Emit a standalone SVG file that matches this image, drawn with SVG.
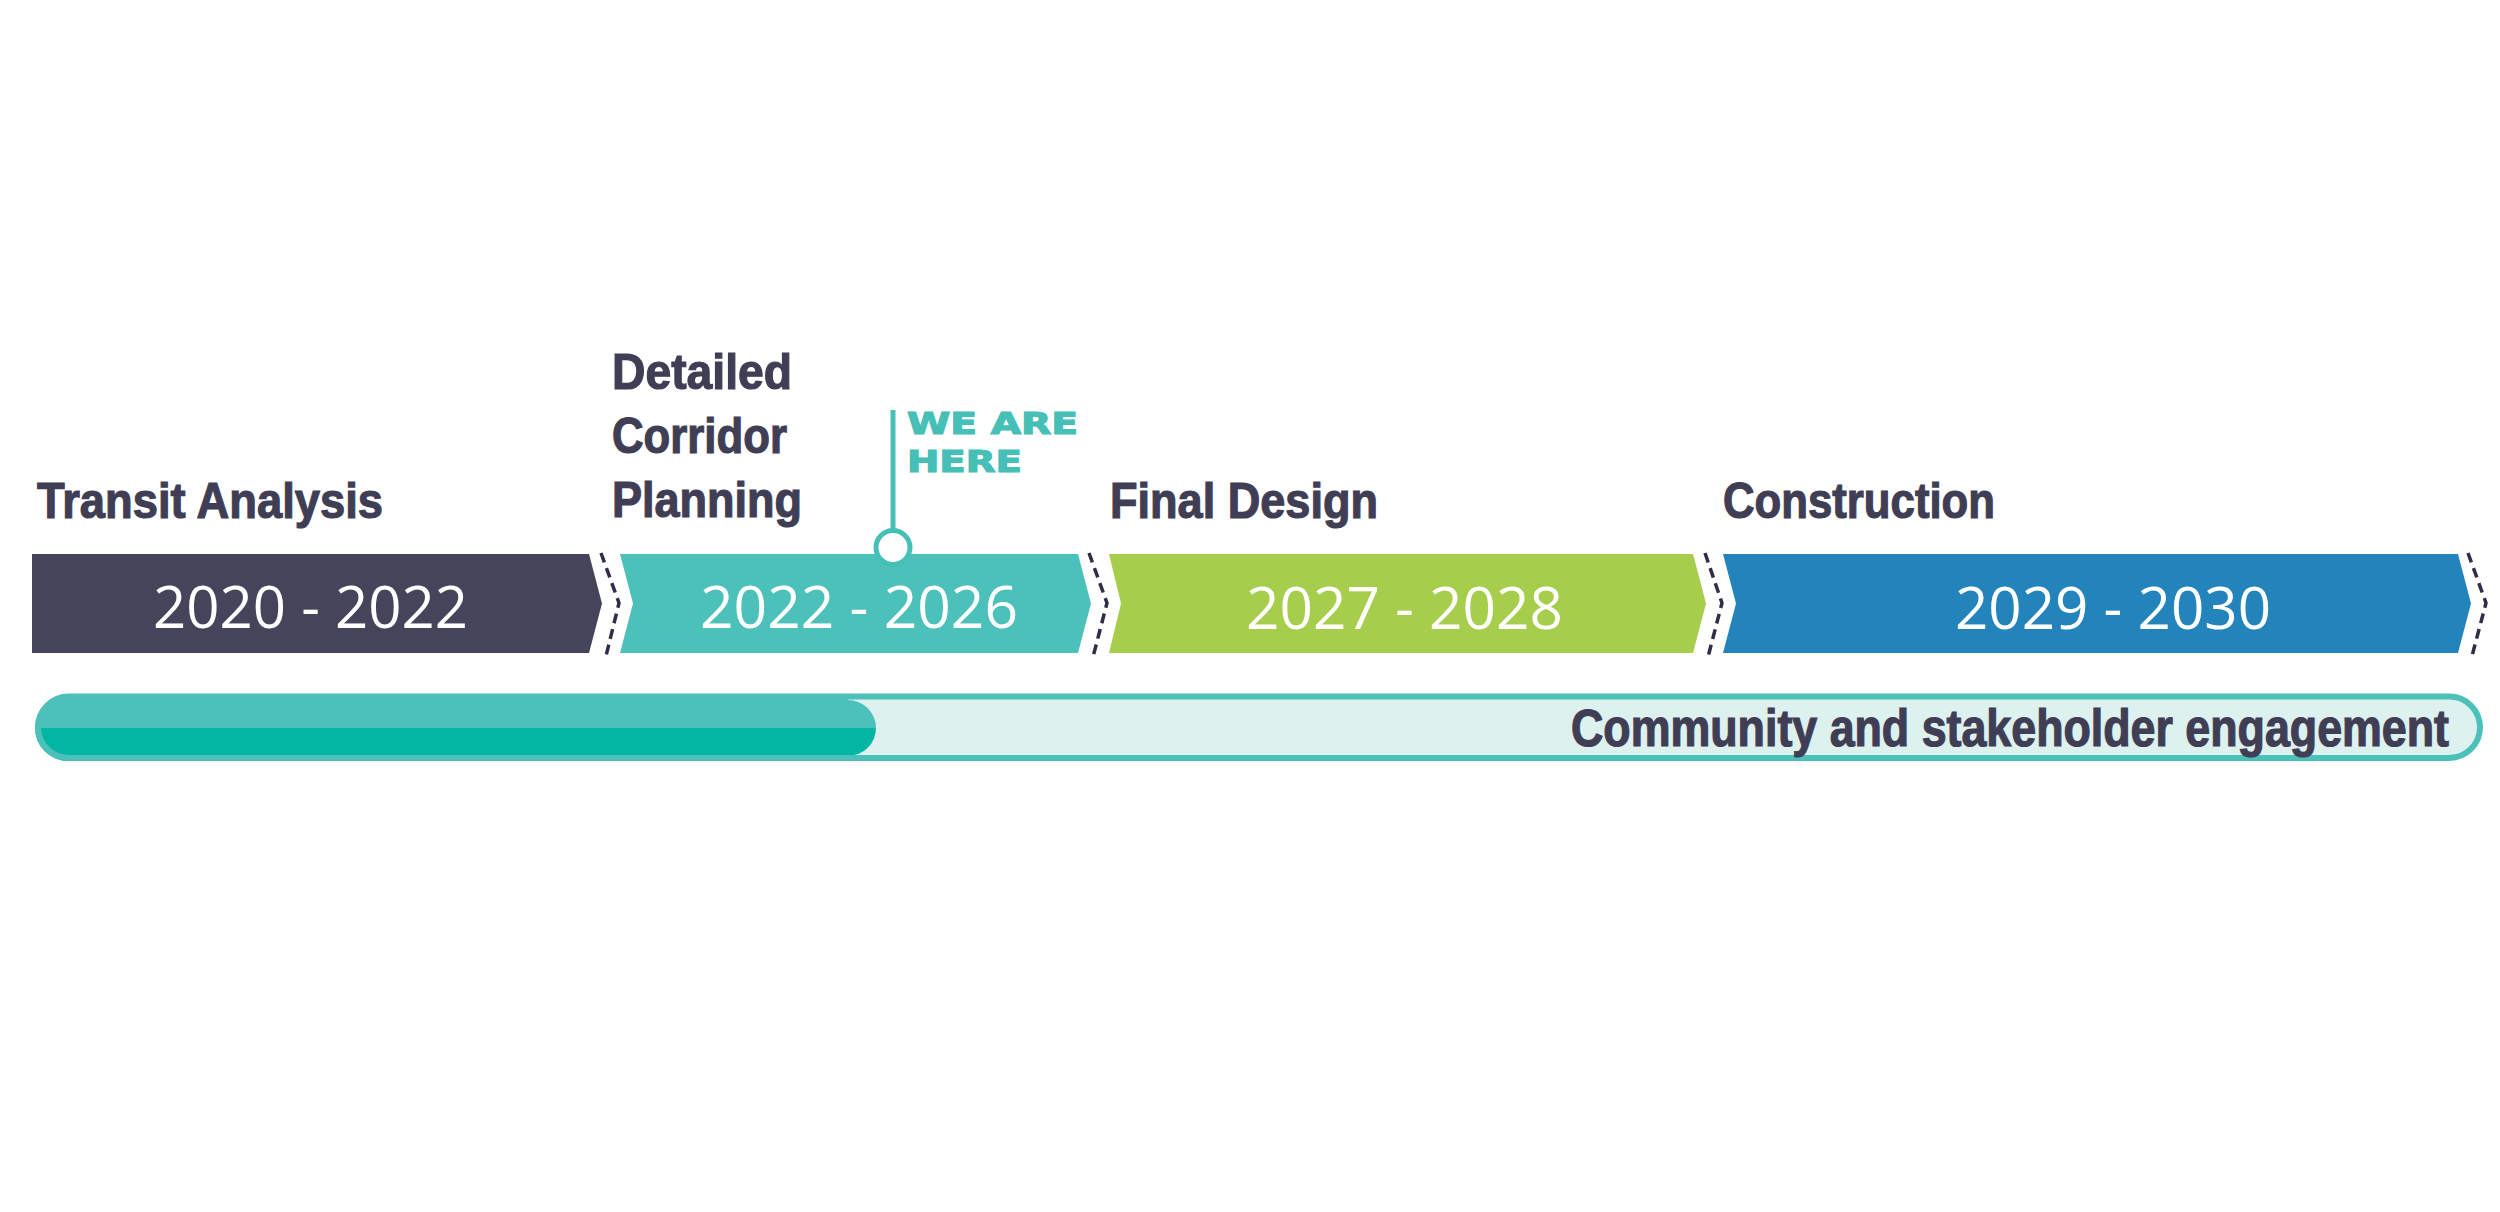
<svg xmlns="http://www.w3.org/2000/svg" width="2500" height="1212" viewBox="0 0 2500 1212">
  <style>
    .label { font-family: "Liberation Sans", Arial, sans-serif; font-weight: bold; font-size: 50px; fill: #3f3e55; stroke: #3f3e55; stroke-width: 1.2; }
    .years { font-family: "Open Sans", "Noto Sans", sans-serif; font-size: 58px; fill: #ffffff; }
    .here { font-family: "DejaVu Sans", sans-serif; font-weight: bold; font-size: 30px; fill: #46c0b7; stroke: #46c0b7; stroke-width: 1.2; }
    .sep { fill: none; stroke: #2f2e48; stroke-width: 3.5; stroke-dasharray: 10 6; stroke-linejoin: round; }
  </style>
  <rect x="0" y="0" width="2500" height="1212" fill="#ffffff"/>

  <g id="phase-transit-analysis">
    <polygon points="32,554 589,554 602,603.5 589,653 32,653" fill="#46445a"/>
    <text class="label" x="37" y="518" textLength="346" lengthAdjust="spacingAndGlyphs">Transit Analysis</text>
    <text class="years" x="153" y="628" textLength="315" lengthAdjust="spacingAndGlyphs">2020 - 2022</text>
  </g>

  <g id="phase-detailed-corridor-planning">
    <polygon points="620,554 1078,554 1091,603.5 1078,653 620,653 633,603.5" fill="#4bc1ba"/>
    <text class="label" x="612" y="389" textLength="180" lengthAdjust="spacingAndGlyphs">Detailed</text>
    <text class="label" x="612" y="453" textLength="175" lengthAdjust="spacingAndGlyphs">Corridor</text>
    <text class="label" x="612" y="517" textLength="190" lengthAdjust="spacingAndGlyphs">Planning</text>
    <text class="years" x="700" y="628" textLength="318" lengthAdjust="spacingAndGlyphs">2022 - 2026</text>
  </g>

  <g id="phase-final-design">
    <polygon points="1109,554 1693,554 1706,603.5 1693,653 1109,653 1121,603.5" fill="#a7cd4c"/>
    <text class="label" x="1110" y="518" textLength="268" lengthAdjust="spacingAndGlyphs">Final Design</text>
    <text class="years" x="1246" y="629" textLength="317" lengthAdjust="spacingAndGlyphs">2027 - 2028</text>
  </g>

  <g id="phase-construction">
    <polygon points="1723,554 2458,554 2471,603.5 2458,653 1723,653 1736,603.5" fill="#2383bb"/>
    <text class="label" x="1723" y="518" textLength="272" lengthAdjust="spacingAndGlyphs">Construction</text>
    <text class="years" x="1955" y="629" textLength="316" lengthAdjust="spacingAndGlyphs">2029 - 2030</text>
  </g>

  <g id="separators">
    <polyline class="sep" points="601,553 619,603 606,656"/>
    <polyline class="sep" points="1089,553 1107,603 1093,657"/>
    <polyline class="sep" points="1705,553 1722,603 1708,657"/>
    <polyline class="sep" points="2468,553 2486,603 2472,656"/>
  </g>

  <g id="we-are-here">
    <line x1="893" y1="410" x2="893" y2="530" stroke="#46c0b7" stroke-width="5"/>
    <circle cx="893" cy="547.5" r="17" fill="#ffffff" stroke="#46c0b7" stroke-width="5"/>
    <text class="here" x="907" y="434" textLength="171" lengthAdjust="spacingAndGlyphs">WE ARE</text>
    <text class="here" x="907" y="472" textLength="115" lengthAdjust="spacingAndGlyphs">HERE</text>
  </g>

  <g id="engagement">
    <rect x="38" y="696.5" width="2442" height="61.5" rx="30.75" fill="#ddf1ef"/>
    <path d="M35,728 A33,33 0 0 1 68,695 H848 V700 A28,28 0 0 1 876,728 Z" fill="#4cc1b9"/>
    <path d="M35,728 H876 A28,28 0 0 1 848,756 V761 H68 A33,33 0 0 1 35,728 Z" fill="#03b6a3"/>
    <rect x="38" y="696.5" width="2442" height="61.5" rx="30.75" fill="none" stroke="#4cc1b9" stroke-width="6"/>
    <text class="label" x="1571" y="746" style="font-size:51px" textLength="878" lengthAdjust="spacingAndGlyphs">Community and stakeholder engagement</text>
  </g>
</svg>
